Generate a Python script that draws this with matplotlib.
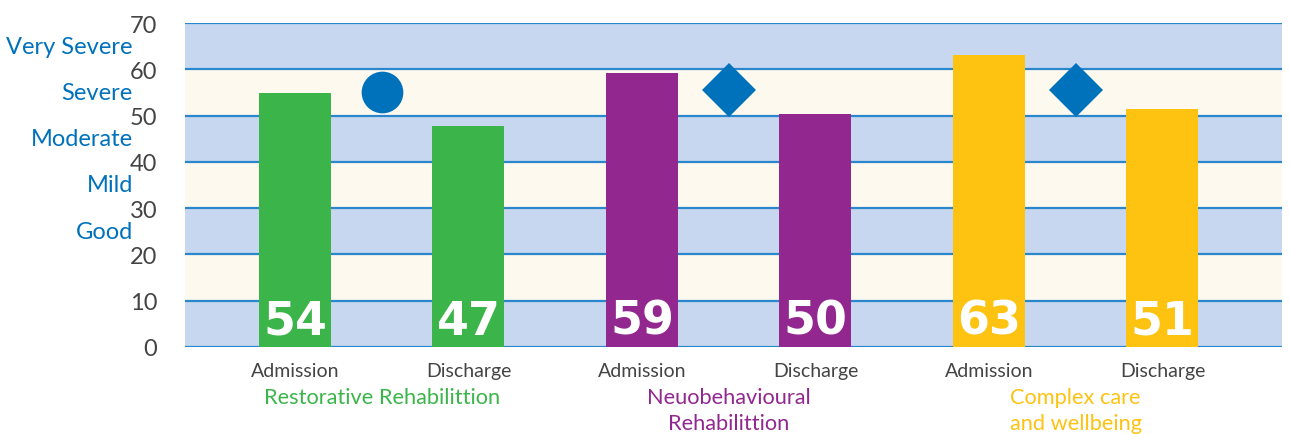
import matplotlib
matplotlib.use("Agg")
import matplotlib.pyplot as plt

# Data
x_labels = ["Admission", "Discharge", "Admission", "Discharge", "Admission", "Discharge"]
bar_heights = [54.8, 47.8, 59.2, 50.3, 63.1, 51.4]
bar_labels = ["54", "47", "59", "50", "63", "51"]
groups = ["Restorative Rehabilittion", "Neuobehavioural\nRehabilittion", "Complex care\nand wellbeing"]
marker_values = [55.1, 55.5, 55.5]
marker_shapes = ["o", "D", "D"]
severity_labels = ["Good", "Mild", "Moderate", "Severe", "Very Severe"]
severity_pos = [25, 35, 45, 55, 65]
yticks = [0, 10, 20, 30, 40, 50, 60, 70]

group_colors = ["#3bb54a", "#92278f", "#fec210"]
bar_colors = [c for c in group_colors for _ in range(2)]
blue = "#0072bc"
band_blue = "#c6d7ef"
band_cream = "#fdf9ef"
grid_blue = "#2a87cc"

plt.rcParams['font.family'] = ['Lato', 'DejaVu Sans']

fig = plt.figure(figsize=(12.89, 4.35), dpi=100)
ax = fig.add_axes([185/1289, 1-348/435, (1282-185)/1289, (348-24)/435])

xs = list(range(len(bar_heights)))
ax.set_xlim(-0.634, 5.689)
ax.set_ylim(0, 70)

# bands
for i in range(7):
    ax.axhspan(i*10, (i+1)*10, color=band_blue if i % 2 == 0 else band_cream, zorder=0, lw=0)
for y in yticks:
    ax.axhline(y, color=grid_blue, lw=1.6, zorder=1)

ax.bar(xs, bar_heights, width=0.415, color=bar_colors, zorder=2)
for x, lab in zip(xs, bar_labels):
    ax.text(x, 0.7, lab, ha='center', va='bottom', color='white', fontsize=33,
            fontweight='heavy', family=['DejaVu Sans'], zorder=3)

for g, (v, m) in enumerate(zip(marker_values, marker_shapes)):
    ax.plot(2*g + 0.5, v, marker=m, color=blue, markersize=30 if m == 'o' else 27,
            markeredgewidth=0, zorder=3, clip_on=False)

for s in ax.spines.values():
    s.set_visible(False)

ax.set_yticks(yticks)
ax.set_yticklabels([str(t) for t in yticks], fontsize=17, color='#444444')
ax.tick_params(axis='y', length=0, pad=20)
ax.set_xticks(xs)
ax.set_xticklabels(x_labels, fontsize=14, color='#444444')
ax.tick_params(axis='x', length=0, pad=11)

for lab, y in zip(severity_labels, severity_pos):
    ax.text(-0.935, y, lab, ha='right', va='center', fontsize=17, color=blue,
            transform=ax.transData)

for g, (name, c) in enumerate(zip(groups, group_colors)):
    ax.text(2*g + 0.5, -8.6, name, ha='center', va='top', fontsize=15.7, color=c,
            linespacing=1.4, clip_on=False)

fig.savefig("out.png", dpi=100)
